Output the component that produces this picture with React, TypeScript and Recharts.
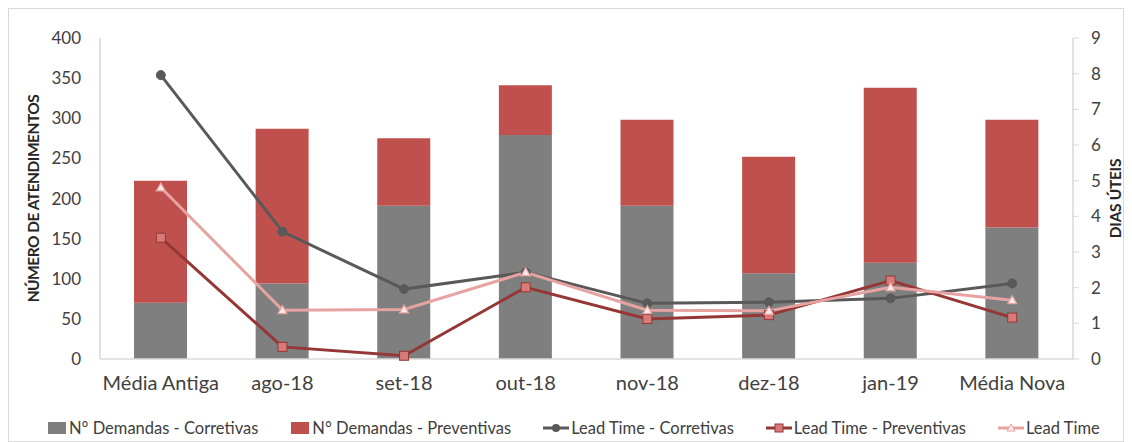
import React from 'react';
import { ComposedChart, Bar, Line, XAxis, YAxis, Legend } from 'recharts';

const categories = ['Média Antiga', 'ago-18', 'set-18', 'out-18', 'nov-18', 'dez-18', 'jan-19', 'Média Nova'];
const demandasCorretivas = [70, 94, 191, 279, 191, 107, 120, 164];
const demandasPreventivas = [152, 193, 84, 62, 107, 145, 218, 134];
const leadTimeCorretivas = [7.96, 3.57, 1.96, 2.43, 1.56, 1.59, 1.7, 2.12];
const leadTimePreventivas = [3.4, 0.34, 0.09, 2.01, 1.12, 1.23, 2.2, 1.16];
const leadTimeTotal = [4.81, 1.37, 1.39, 2.43, 1.37, 1.35, 2.01, 1.65];
const leftTicks = [0, 50, 100, 150, 200, 250, 300, 350, 400];
const rightTicks = [0, 1, 2, 3, 4, 5, 6, 7, 8, 9];

const data = categories.map((c, i) => ({
  cat: c,
  corr: demandasCorretivas[i],
  prev: demandasPreventivas[i],
  ltc: leadTimeCorretivas[i],
  ltp: leadTimePreventivas[i],
  lt: leadTimeTotal[i],
}));

const GRAY = '#7f7f7f';
const RED = '#c0504d';
const LINE_GRAY = '#595959';
const LINE_RED = '#953735';
const LINE_PINK = '#e6a3a2';
const FONT = 'Lato, "Open Sans", sans-serif';

const CircleDot = (p: any) => (
  <circle key={p.key} cx={p.cx} cy={p.cy} r={4.5} fill={LINE_GRAY} stroke={LINE_GRAY} strokeWidth={1} />
);
const SquareDot = (p: any) => (
  <rect key={p.key} x={p.cx - 4.5} y={p.cy - 4.5} width={9} height={9} fill="#d87a78" stroke={LINE_RED} strokeWidth={1} />
);
const TriDot = (p: any) => (
  <path key={p.key} d={`M${p.cx},${p.cy - 4.5} L${p.cx + 4.5},${p.cy + 3.5} L${p.cx - 4.5},${p.cy + 3.5} Z`} fill="#fbeaea" stroke={LINE_PINK} strokeWidth={1.2} />
);

const legendItems = [
  { label: 'N° Demandas - Corretivas', kind: 'bar', color: GRAY },
  { label: 'N° Demandas - Preventivas', kind: 'bar', color: RED },
  { label: 'Lead Time - Corretivas', kind: 'circle', color: LINE_GRAY },
  { label: 'Lead Time - Preventivas', kind: 'square', color: LINE_RED },
  { label: 'Lead Time', kind: 'tri', color: LINE_PINK },
];

const LegendContent = () => (
  <div style={{ display: 'flex', alignItems: 'center', paddingLeft: 39, gap: 32, fontFamily: FONT, fontSize: 16.5, color: '#404040', height: 24 }}>
    {legendItems.map((it) => (
      <div key={it.label} style={{ display: 'flex', alignItems: 'center' }}>
        <svg width={it.kind === 'bar' ? 20 : 26} height={14} style={{ marginRight: 2 }}>
          {it.kind === 'bar' && <rect x={1} y={1} width={18} height={12} fill={it.color} />}
          {it.kind !== 'bar' && <line x1={0} y1={7} x2={26} y2={7} stroke={it.color} strokeWidth={3} />}
          {it.kind === 'circle' && <circle cx={13} cy={7} r={4} fill={it.color} />}
          {it.kind === 'square' && <rect x={9} y={3} width={8} height={8} fill="#d87a78" stroke={LINE_RED} />}
          {it.kind === 'tri' && <path d="M13,3 L17,10 L9,10 Z" fill="#fbeaea" stroke={LINE_PINK} />}
        </svg>
        <span>{it.label}</span>
      </div>
    ))}
  </div>
);

const LeftLabel = (props: any) => {
  const vb = props.viewBox;
  const x = vb.x + 25;
  const y = vb.y + vb.height / 2;
  return (
    <text x={x} y={y} transform={`rotate(-90, ${x}, ${y})`} textAnchor="middle" dominantBaseline="central" fontFamily={FONT} fontWeight="bold" fontSize={15.5} fill="#262626" letterSpacing={-0.5}>
      NÚMERO DE ATENDIMENTOS
    </text>
  );
};
const RightLabel = (props: any) => {
  const vb = props.viewBox;
  const x = vb.x + 42;
  const y = vb.y + vb.height / 2;
  return (
    <text x={x} y={y} transform={`rotate(-90, ${x}, ${y})`} textAnchor="middle" dominantBaseline="central" fontFamily={FONT} fontWeight="bold" fontSize={15.5} fill="#262626" letterSpacing={-0.3}>
      DIAS ÚTEIS
    </text>
  );
};

export default function App() {
  return (
    <div style={{ position: 'relative', width: 1116, height: 434 }}>
      <div style={{ position: 'absolute', left: 0, top: 0, width: 1114, height: 432, border: '1px solid #d9d9d9' }} />
      <div style={{ position: 'absolute', left: 0, top: 0 }}>
        <ComposedChart width={1116} height={434} data={data} margin={{ top: 30, right: 0, bottom: 2, left: 0 }} barSize={53}>
          <XAxis
            dataKey="cat"
            xAxisId="x"
            height={57}
            tickLine={false}
            tickSize={0}
            tickMargin={17}
            axisLine={{ stroke: '#d9d9d9', strokeWidth: 1.5 }}
            tick={{ fontFamily: FONT, fontSize: 20, fill: '#404040' }}
            interval={0}
          />
          <YAxis
            yAxisId="left"
            orientation="left"
            width={92}
            domain={[0, 400]}
            ticks={leftTicks}
            tickLine={false}
            tickSize={0}
            tickMargin={19}
            axisLine={{ stroke: '#d9d9d9', strokeWidth: 1.5 }}
            tick={{ fontFamily: FONT, fontSize: 17, fill: '#404040' }}
            label={<LeftLabel />}
          />
          <YAxis
            yAxisId="right"
            orientation="right"
            width={51}
            domain={[0, 9]}
            ticks={rightTicks}
            tickLine={{ stroke: '#d9d9d9' }}
            tickSize={6}
            tickMargin={12}
            axisLine={{ stroke: '#d9d9d9', strokeWidth: 1.5 }}
            tick={{ fontFamily: FONT, fontSize: 17, fill: '#404040' }}
            label={<RightLabel />}
          />
          <Legend verticalAlign="bottom" content={<LegendContent />} wrapperStyle={{ left: 0, width: 1116, height: 24 }} />
          <Bar xAxisId="x" yAxisId="left" dataKey="corr" name="N° Demandas - Corretivas" stackId="a" fill={GRAY} isAnimationActive={false} />
          <Bar xAxisId="x" yAxisId="left" dataKey="prev" name="N° Demandas - Preventivas" stackId="a" fill={RED} isAnimationActive={false} />
          <Line xAxisId="x" yAxisId="right" dataKey="ltc" name="Lead Time - Corretivas" stroke={LINE_GRAY} strokeWidth={3} dot={CircleDot} activeDot={false} isAnimationActive={false} />
          <Line xAxisId="x" yAxisId="right" dataKey="ltp" name="Lead Time - Preventivas" stroke={LINE_RED} strokeWidth={3} dot={SquareDot} activeDot={false} isAnimationActive={false} />
          <Line xAxisId="x" yAxisId="right" dataKey="lt" name="Lead Time" stroke={LINE_PINK} strokeWidth={3} dot={TriDot} activeDot={false} isAnimationActive={false} />
        </ComposedChart>
      </div>
    </div>
  );
}
